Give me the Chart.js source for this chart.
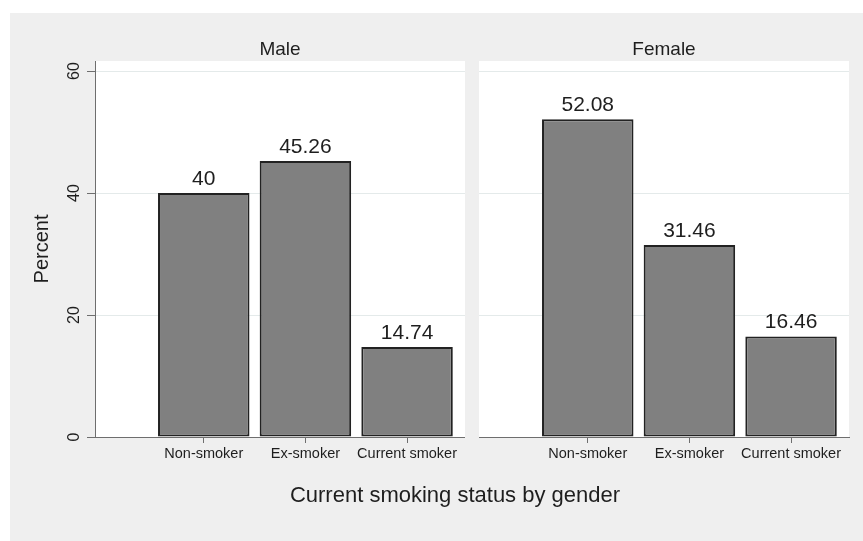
<!DOCTYPE html>
<html>
<head>
<meta charset="utf-8">
<script src="https://cdn.jsdelivr.net/npm/chart.js@4/dist/chart.umd.min.js"></script>
<style>
html,body{margin:0;padding:0;background:#fff;overflow:hidden}
#wrap{position:relative;width:863px;height:541px}
canvas{display:block}
</style>
</head>
<body>
<div id="wrap"><canvas id="c" width="863" height="541"></canvas></div>
<script>
// ---- data ----
const categories = ['Non-smoker', 'Ex-smoker', 'Current smoker'];
const panelNames = ['Male', 'Female'];
const maleValues = [40, 45.26, 14.74];
const femaleValues = [52.08, 31.46, 16.46];
const yTicks = [0, 20, 40, 60];
const yAxisTitle = 'Percent';
const xAxisTitle = 'Current smoking status by gender';

// ---- styles ----
const FONT = "'Liberation Sans', Arial, Helvetica, sans-serif";
const TEXT = '#1e1e1e';
const AXIS = '#6e6e6e';
const GRID = '#e4eaea';
const BG = '#efefef';
const BAR = '#808080';
const BAR_EDGE = '#222222';

const toPoints = vals => vals.map((v, i) => ({x: i + 1, y: v}));
const catTicks = scale => { scale.ticks = categories.map((c, i) => ({value: i + 1})); };
const fixH = h => s => { s.height = h; s.paddingLeft = 0; s.paddingRight = 0; };

function bottomAxis(weight) {
  return {
    type: 'linear', axis: 'x', position: 'bottom', stack: 'panels', stackWeight: 370, weight: weight,
    min: -0.07, max: 3.57, offset: false,
    afterBuildTicks: catTicks,
    afterFit: fixH(33),
    ticks: {display: true, autoSkip: false, maxRotation: 0, minRotation: 0, padding: 2, color: TEXT,
            font: {family: FONT, size: 14.5}, callback: v => categories[v - 1]},
    grid: {display: true, drawOnChartArea: false, drawTicks: true, tickLength: 6, tickColor: AXIS, color: AXIS, offset: false},
    border: {display: true, color: AXIS, width: 1}
  };
}
function gapAxis(position, weight) {
  return {
    type: 'linear', axis: 'x', position: position, stack: 'panels', stackWeight: 14, weight: weight,
    min: 0, max: 1, display: true,
    afterFit: fixH(position === 'top' ? 61 : 33),
    ticks: {display: false}, grid: {display: false}, border: {display: false}
  };
}
function topAxis(name, weight) {
  return {
    type: 'linear', axis: 'x', position: 'top', stack: 'panels', stackWeight: 370, weight: weight,
    min: 0, max: 1, display: true,
    afterFit: fixH(61),
    ticks: {display: false}, grid: {display: false}, border: {display: false},
    title: {display: true, text: name, color: TEXT, font: {family: FONT, size: 19}, padding: {top: 38, bottom: 0}}
  };
}

const panelBg = {
  id: 'panelBg',
  beforeDraw(chart) {
    const {ctx, chartArea: a, scales: s, width, height} = chart;
    ctx.save();
    ctx.fillStyle = '#ffffff';
    ctx.fillRect(0, 0, width, height);
    ctx.fillStyle = BG;
    ctx.fillRect(10, 13, width - 10, height - 13);
    ctx.fillStyle = '#ffffff';
    ['xM', 'xF'].forEach(id => {
      const sc = s[id];
      ctx.fillRect(sc.left, a.top, sc.right - sc.left, a.bottom - a.top);
    });
    ctx.restore();
  },
  beforeDatasetsDraw(chart) {
    const {ctx, chartArea: a, scales: s} = chart;
    const g = s.xGap;
    ctx.save();
    ctx.fillStyle = BG;
    ctx.fillRect(g.left, a.top - 1, g.right - g.left, a.bottom - a.top + 2);
    ctx.restore();
  }
};

const valueLabels = {
  id: 'valueLabels',
  afterDatasetsDraw(chart) {
    const {ctx} = chart;
    ctx.save();
    ctx.font = '21px ' + FONT;
    ctx.fillStyle = TEXT;
    ctx.textAlign = 'center';
    ctx.textBaseline = 'middle';
    chart.data.datasets.forEach((ds, di) => {
      chart.getDatasetMeta(di).data.forEach((bar, i) => {
        ctx.fillText(String(ds.data[i].y), bar.x, bar.y - 14);
      });
    });
    ctx.restore();
  }
};

const barStyle = {
  backgroundColor: BAR, borderColor: BAR_EDGE, borderWidth: 2, borderSkipped: false,
  categoryPercentage: 1, barPercentage: 0.9, grouped: false
};

new Chart(document.getElementById('c'), {
  type: 'bar',
  data: {
    datasets: [
      Object.assign({label: panelNames[0], data: toPoints(maleValues), xAxisID: 'xM', yAxisID: 'y'}, barStyle),
      Object.assign({label: panelNames[1], data: toPoints(femaleValues), xAxisID: 'xF', yAxisID: 'y'}, barStyle)
    ]
  },
  options: {
    responsive: false,
    devicePixelRatio: 1,
    animation: false,
    events: [],
    layout: {padding: {top: 0, left: 61, right: 14, bottom: 31.6}},
    plugins: {
      legend: {display: false},
      tooltip: {enabled: false},
      title: {display: false},
      subtitle: {display: true, text: xAxisTitle, position: 'bottom', fullSize: true, color: TEXT,
                 font: {family: FONT, size: 22, weight: 'normal'}, padding: {top: 13, bottom: 0}}
    },
    scales: {
      y: {
        type: 'linear', position: 'left', min: 0, max: 61.64,
        afterBuildTicks: s => { s.ticks = yTicks.map(v => ({value: v})); },
        afterFit: s => { s.width = 34; s.paddingTop = 0; s.paddingBottom = 0; },
        ticks: {minRotation: 90, maxRotation: 90, crossAlign: 'center', padding: 4, color: TEXT,
                font: {family: FONT, size: 16}},
        grid: {color: c => (c.tick && c.tick.value === 0) ? 'rgba(0,0,0,0)' : GRID, tickColor: AXIS, tickLength: 8, lineWidth: 1},
        border: {display: true, color: AXIS, width: 1},
        title: {display: true, text: yAxisTitle, color: TEXT, font: {family: FONT, size: 20}, padding: {top: -31, bottom: 0}}
      },
      xM: bottomAxis(1),
      xGap: gapAxis('bottom', 2),
      xF: bottomAxis(3),
      tM: topAxis(panelNames[0], 3),
      tGap: gapAxis('top', 2),
      tF: topAxis(panelNames[1], 1)
    }
  },
  plugins: [panelBg, valueLabels]
});
</script>
</body>
</html>
